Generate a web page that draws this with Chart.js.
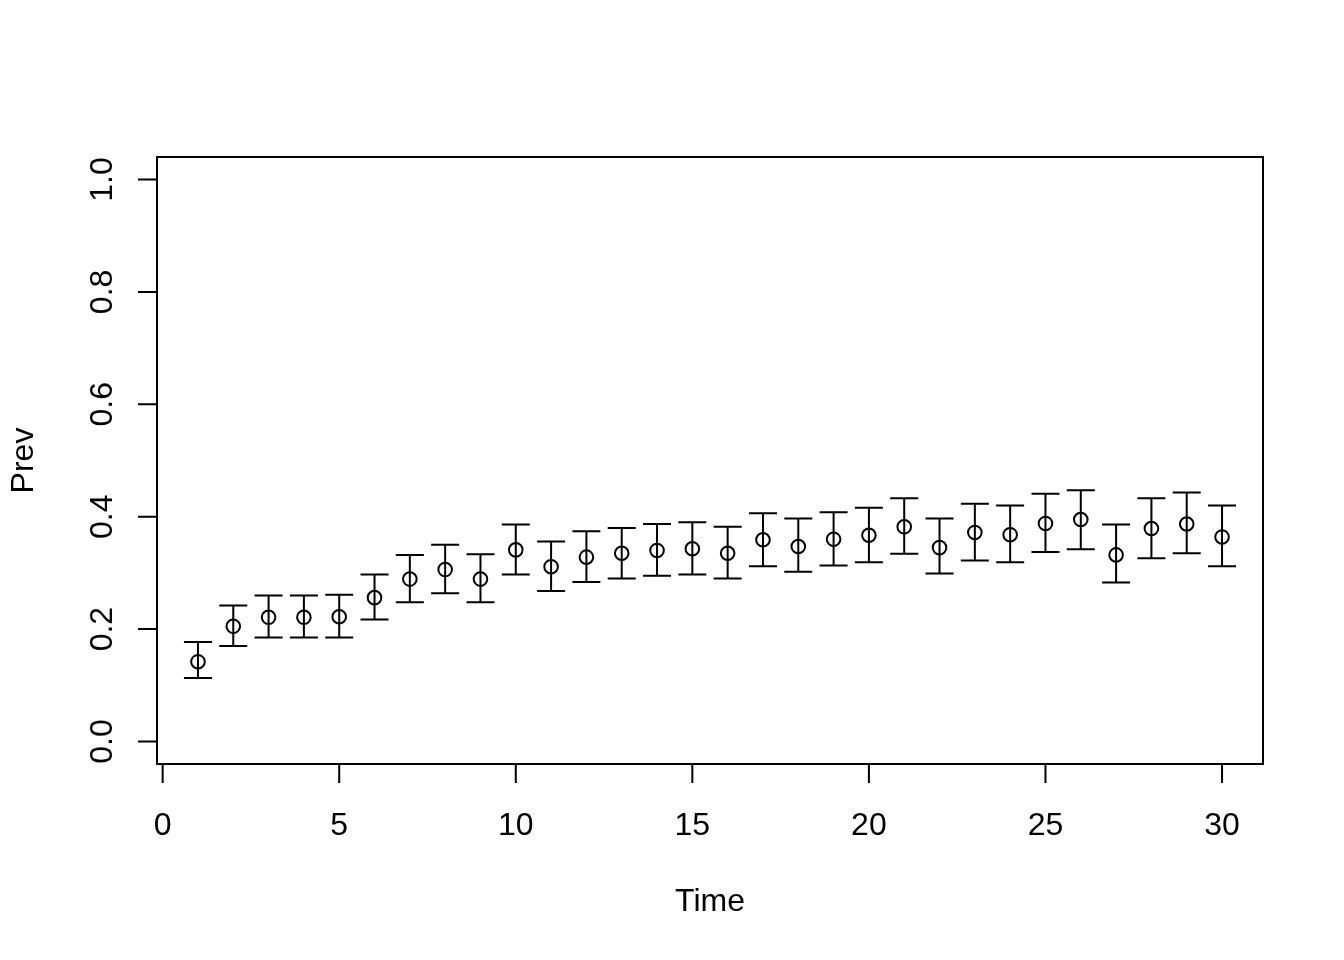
<!DOCTYPE html>
<html>
<head>
<meta charset="utf-8">
<script src="https://cdn.jsdelivr.net/npm/chart.js@4"></script>
<style>
  html, body { margin: 0; padding: 0; background: #fff; }
  #wrap { width: 1344px; height: 960px; }
</style>
</head>
<body>
<div id="wrap"><canvas id="chart" width="1344" height="960"></canvas></div>
<script>
// Prevalence estimates with confidence bounds, one per time step
const time = [1, 2, 3, 4, 5, 6, 7, 8, 9, 10, 11, 12, 13, 14, 15,
              16, 17, 18, 19, 20, 21, 22, 23, 24, 25, 26, 27, 28, 29, 30];
const prev = [0.142, 0.205, 0.221, 0.221, 0.222, 0.256, 0.289, 0.306, 0.289, 0.341,
              0.311, 0.328, 0.335, 0.340, 0.343, 0.335, 0.359, 0.347, 0.360, 0.367,
              0.382, 0.345, 0.372, 0.368, 0.388, 0.395, 0.332, 0.379, 0.387, 0.364];
const upper = [0.177, 0.242, 0.260, 0.260, 0.261, 0.297, 0.332, 0.350, 0.333, 0.386,
               0.356, 0.374, 0.380, 0.387, 0.390, 0.382, 0.406, 0.397, 0.408, 0.416,
               0.433, 0.397, 0.423, 0.420, 0.441, 0.447, 0.386, 0.433, 0.443, 0.420];
const lower = [0.113, 0.170, 0.185, 0.185, 0.185, 0.217, 0.248, 0.264, 0.248, 0.297,
               0.268, 0.284, 0.290, 0.295, 0.297, 0.290, 0.312, 0.302, 0.313, 0.319,
               0.334, 0.299, 0.322, 0.319, 0.337, 0.342, 0.283, 0.326, 0.335, 0.312];

// Axis ticks as R draws them
const xTicks = [0, 5, 10, 15, 20, 25, 30];
const yTicks = [0.0, 0.2, 0.4, 0.6, 0.8, 1.0];

const FONT = '32px "Liberation Sans", Arial, sans-serif';

// R-style box, axes and error bars, drawn through the chart's scales.
const rAxes = {
  id: "rAxes",
  beforeDatasetsDraw(chart) {
    const { ctx, scales: { x, y } } = chart;
    ctx.save();
    ctx.strokeStyle = "#000";
    ctx.lineWidth = 2;

    // error bars with caps
    const cap = 14;
    time.forEach((t, i) => {
      const px = x.getPixelForValue(t);
      const yl = y.getPixelForValue(lower[i]);
      const yu = y.getPixelForValue(upper[i]);
      ctx.beginPath();
      ctx.moveTo(px, yl); ctx.lineTo(px, yu);
      ctx.moveTo(px - cap, yu); ctx.lineTo(px + cap, yu);
      ctx.moveTo(px - cap, yl); ctx.lineTo(px + cap, yl);
      ctx.stroke();
    });
    ctx.restore();
  },
  afterDraw(chart) {
    const { ctx, chartArea: a, scales: { x, y } } = chart;
    ctx.save();
    ctx.strokeStyle = "#000";
    ctx.fillStyle = "#000";
    ctx.lineWidth = 2;

    // plot box
    ctx.strokeRect(a.left, a.top, a.right - a.left, a.bottom - a.top);

    // x axis
    const tl = 19;
    ctx.beginPath();
    ctx.moveTo(x.getPixelForValue(xTicks[0]), a.bottom);
    ctx.lineTo(x.getPixelForValue(xTicks[xTicks.length - 1]), a.bottom);
    xTicks.forEach(v => {
      const px = x.getPixelForValue(v);
      ctx.moveTo(px, a.bottom); ctx.lineTo(px, a.bottom + tl);
    });
    // y axis
    ctx.moveTo(a.left, y.getPixelForValue(yTicks[0]));
    ctx.lineTo(a.left, y.getPixelForValue(yTicks[yTicks.length - 1]));
    yTicks.forEach(v => {
      const py = y.getPixelForValue(v);
      ctx.moveTo(a.left, py); ctx.lineTo(a.left - tl, py);
    });
    ctx.stroke();

    ctx.font = FONT;
    ctx.textAlign = "center";
    ctx.textBaseline = "alphabetic";
    xTicks.forEach(v => ctx.fillText(String(v), x.getPixelForValue(v), 834.5));
    yTicks.forEach(v => {
      ctx.save();
      ctx.translate(111.5, y.getPixelForValue(v));
      ctx.rotate(-Math.PI / 2);
      ctx.fillText(v.toFixed(1), 0, 0);
      ctx.restore();
    });

    // axis titles
    ctx.fillText("Time", (a.left + a.right) / 2, 911);
    ctx.save();
    ctx.translate(33, (a.top + a.bottom) / 2);
    ctx.rotate(-Math.PI / 2);
    ctx.fillText("Prev", 0, 0);
    ctx.restore();
    ctx.restore();
  }
};

new Chart(document.getElementById("chart").getContext("2d"), {
  type: "scatter",
  data: {
    datasets: [{
      data: time.map((t, i) => ({ x: t, y: prev[i] })),
      pointStyle: "circle",
      pointRadius: 6.8,
      pointHoverRadius: 6.8,
      pointBorderWidth: 2,
      pointBackgroundColor: "rgba(0,0,0,0)",
      pointBorderColor: "#000",
      showLine: false
    }]
  },
  options: {
    responsive: false,
    animation: false,
    events: [],
    layout: { padding: { left: 157, top: 157, right: 81, bottom: 196 } },
    plugins: { legend: { display: false }, tooltip: { enabled: false } },
    scales: {
      x: { type: "linear", min: -0.16, max: 31.16, display: false },
      y: { type: "linear", min: -0.04, max: 1.04, display: false }
    }
  },
  plugins: [rAxes]
});
</script>
</body>
</html>
